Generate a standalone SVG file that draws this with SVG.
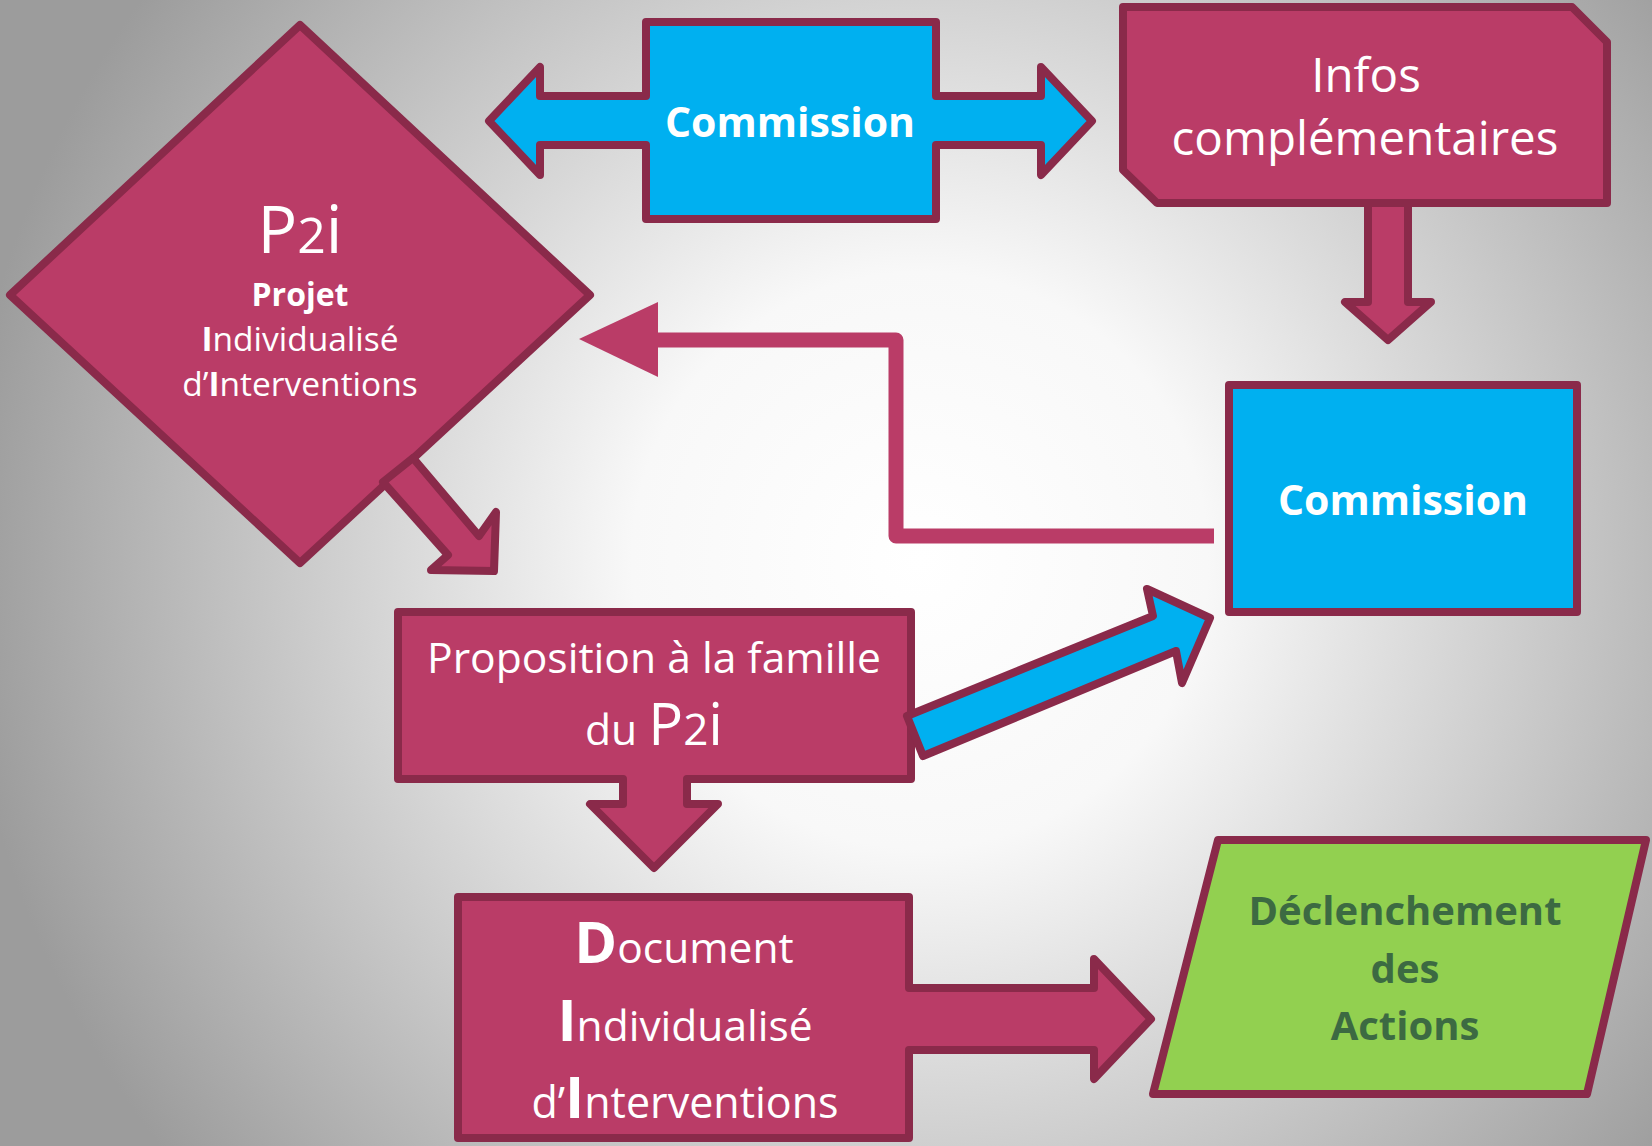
<svg xmlns="http://www.w3.org/2000/svg" width="1652" height="1146" viewBox="0 0 1652 1146">
<defs>
<radialGradient id="bg" gradientUnits="userSpaceOnUse" cx="920" cy="560" r="960">
<stop offset="0" stop-color="#ffffff"/>
<stop offset="0.3" stop-color="#f8f8f8"/>
<stop offset="1" stop-color="#9c9c9c"/>
</radialGradient>
<style>
.mag{fill:#BA3C67;stroke:#8A2A4A;stroke-width:8;stroke-linejoin:round}
.blu{fill:#00B0F0;stroke:#8A2A4A;stroke-width:8;stroke-linejoin:round}
.grn{fill:#92D050;stroke:#8A2A4A;stroke-width:8;stroke-linejoin:round}
.t{font-family:"Open Sans","Noto Sans","DejaVu Sans",sans-serif;fill:#ffffff;text-anchor:middle}
.b{font-weight:bold}
.g{fill:#3C6A42;font-weight:bold}
</style>
</defs>
<rect x="0" y="0" width="1652" height="1146" fill="url(#bg)"/>

<g id="p2i">
<polygon class="mag" points="300,25 590,295 300,563 10,295"/>
<text class="t" x="300" y="253" font-size="66">P<tspan font-size="50">2</tspan>i</text>
<text class="t b" x="300" y="306" font-size="32">Projet</text>
<text class="t" x="300" y="351" font-size="33.5"><tspan class="b">I</tspan>ndividualisé</text>
<text class="t" x="300" y="396" font-size="33.5">d’<tspan class="b">I</tspan>nterventions</text>
</g>

<g id="commission-top">
<polygon class="blu" points="646,22 936,22 936,96 1041,96 1041,67 1092,121 1041,175 1041,145 936,145 936,219 646,219 646,145 540,145 540,175 489,121 540,67 540,96 646,96"/>
<text class="t b" x="790" y="137" font-size="41">Commission</text>
</g>

<g id="connectors">
<polygon class="mag" points="1368,200 1408,200 1408,302 1431,302 1388,340 1345,302 1368,302"/>
<path d="M1214,536 H896 V340 H650" fill="none" stroke="#BA3C67" stroke-width="15" stroke-linejoin="round"/>
<polygon points="579,339 658,302 658,377" fill="#BA3C67"/>
</g>

<g id="infos">
<polygon class="mag" points="1123,7 1572,7 1607,42 1607,203 1157,203 1123,170"/>
<text class="t" x="1366" y="92" font-size="47.5">Infos</text>
<text class="t" x="1365" y="155" font-size="47.5">complémentaires</text>
</g>

<g id="commission-right">
<rect class="blu" x="1229" y="385" width="348" height="227"/>
<text class="t b" x="1403" y="515" font-size="41">Commission</text>
</g>

<g id="proposition">
<polygon class="mag" points="398,612 911,612 911,779 687,779 687,804 718,804 654,868 590,804 623,804 623,779 398,779"/>
<text class="t" x="654" y="673" font-size="42.6">Proposition à la famille</text>
<text class="t" x="654" y="745" font-size="42.6">du <tspan font-size="58">P<tspan font-size="44">2</tspan>i</tspan></text>
</g>

<g id="connectors-2">
<polygon class="mag" points="413,458 479,536 496,512 494,571 431,570 448,555 383,482"/>
<polygon class="blu" points="907,716 1153,616 1147,589 1210,618 1182,683 1176,651 923,756"/>
</g>

<g id="document">
<polygon class="mag" points="458,897 909,897 909,988 1094,988 1094,959 1151,1019 1094,1079 1094,1050 909,1050 909,1138 458,1138"/>
<text class="t" x="684" y="963" font-size="42.5"><tspan class="b" font-size="58">D</tspan>ocument</text>
<text class="t" x="685" y="1041" font-size="42.5"><tspan class="b" font-size="58">I</tspan>ndividualisé</text>
<text class="t" x="685" y="1118" font-size="43"><tspan>d’</tspan><tspan class="b" font-size="58">I</tspan>nterventions</text>
</g>

<g id="declenchement">
<polygon class="grn" points="1218,840 1646,840 1587,1094 1153,1094"/>
<text class="t g" x="1405" y="925" font-size="40">Déclenchement</text>
<text class="t g" x="1405" y="983" font-size="40">des</text>
<text class="t g" x="1405" y="1040" font-size="40">Actions</text>
</g>
</svg>
